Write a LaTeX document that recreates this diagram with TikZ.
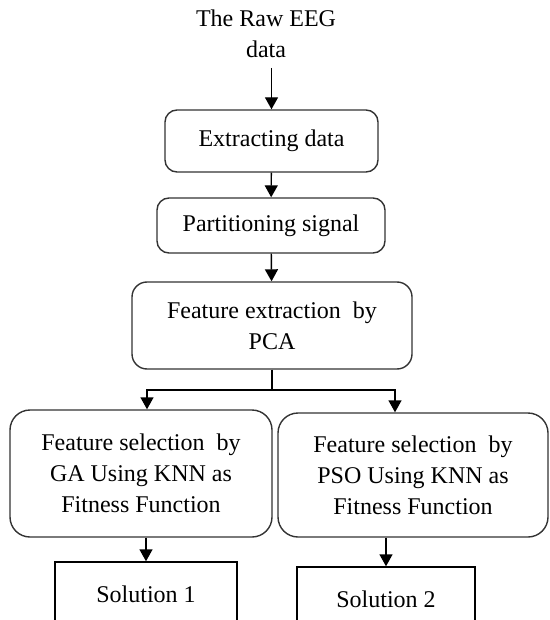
\documentclass[tikz,border=0pt]{standalone}
\usepackage{fontspec}
\setmainfont{Liberation Serif}
\usepackage{tikz}
\usetikzlibrary{arrows.meta}
\pgfdeclarelayer{nodelayer}
\pgfdeclarelayer{edgelayer}
\pgfsetlayers{nodelayer, edgelayer, main}

\begin{document}
\begin{tikzpicture} [x=1pt, y=-1pt,
    txt/.style={align=center, font=\fontsize{24}{31}\selectfont},
    box/.style={txt, draw=black!80, line width=1.4pt, rounded corners=12pt, inner sep=0pt},
    solbox/.style={txt, draw=black, line width=1.4pt, inner sep=0pt},
    arr/.style={-{Triangle[width=13pt,length=12pt]}, line width=1.4pt}]
	\useasboundingbox (0,0) rectangle (549,620);
	\begin{pgfonlayer}{nodelayer}
        \node[txt, anchor=north] (0) at (266,6) {The Raw EEG\\data};
        \node[box, minimum width=213pt, minimum height=62pt] (1) at (271.5,141) {Extracting data};
        \node[box, minimum width=228pt, minimum height=55pt] (2) at (271,225.5) {Partitioning signal};
        \node[box, minimum width=280pt, minimum height=87pt, rounded corners=15pt] (3) at (272,325.5) {Feature extraction~ by\\PCA};
        \node[box, minimum width=262pt, minimum height=127pt, rounded corners=20pt] (4) at (141,473.5) {Feature selection~ by\\GA Using KNN as\\Fitness Function};
        \node[box, minimum width=270pt, minimum height=124pt, rounded corners=20pt] (5) at (413,475) {Feature selection~ by\\PSO Using KNN as\\Fitness Function};
        \node[solbox, minimum width=182pt, minimum height=64pt] (6) at (146,594) {Solution 1};
        \node[solbox, minimum width=178pt, minimum height=64pt] (7) at (386,599) {Solution 2};
        \coordinate (j) at (272,390);
	\end{pgfonlayer}
	\begin{pgfonlayer}{edgelayer}
        \draw[arr, shorten <=7pt] (0.south -| 1.north) -- (1.north);
        \draw[arr] (1) -- (2);
        \draw[arr] (2) -- (3);
        \draw[line width=1.4pt] (3.south -| j) -- (j);
        \draw[arr] (j) -| ([xshift=6pt]4.north);
        \draw[arr] (j) -| ([xshift=-18pt]5.north);
        \draw[arr] (6.north |- 4.south) -- (6);
        \draw[arr] (7.north |- 5.south) -- (7);
	\end{pgfonlayer}
    \end{tikzpicture}
\end{document}
